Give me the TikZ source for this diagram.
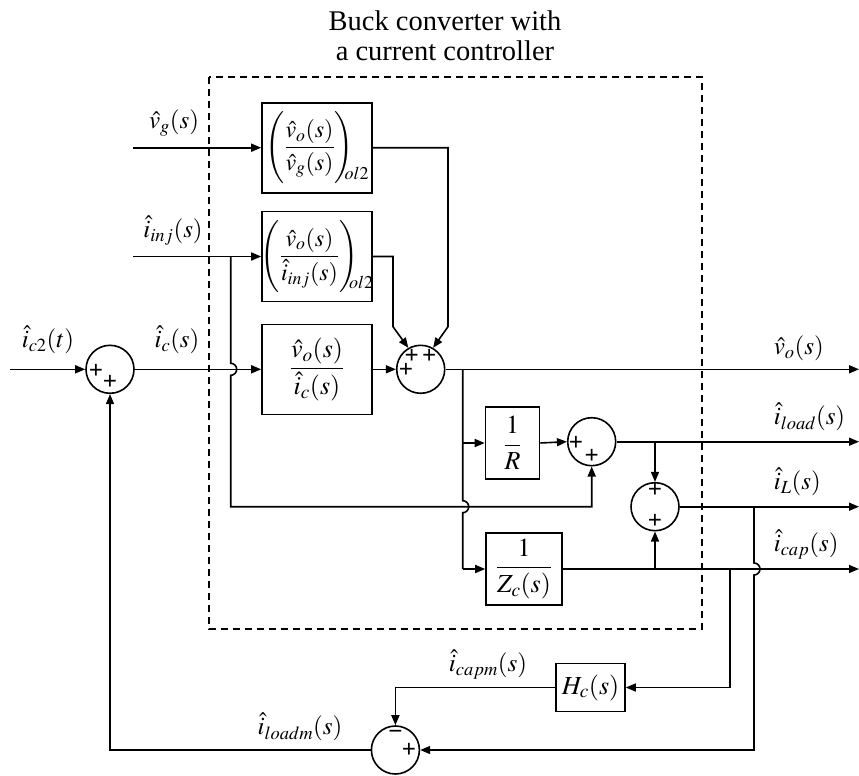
\documentclass[tikz,border=0pt]{standalone}
\usepackage{mathptmx}
\usepackage[no-math]{fontspec}
\setmainfont{Liberation Serif}
\usetikzlibrary{arrows.meta}
\newcommand{\olsub}{\hspace{-9pt}\smash{\raisebox{-26pt}{\fontsize{18}{18}\selectfont$ol2$}}}
\begin{document}
\begin{tikzpicture}[x=1pt,y=1pt,
  line width=1.6pt,
  >={Triangle[length=10pt,width=8pt]},
  blk/.style={draw, rectangle, inner sep=0pt, font=\fontsize{26}{30}\selectfont},
  blkp/.style={draw, rectangle, inner sep=0pt, font=\fontsize{24}{28}\selectfont},
  sumc/.style={draw, circle, minimum size=48pt, inner sep=0pt},
  sgn/.style={font=\fontsize{25}{25}\selectfont\bfseries, inner sep=0pt},
  lbl/.style={anchor=south, inner sep=0pt, font=\fontsize{25}{29}\selectfont},
  lblw/.style={anchor=south west, inner sep=0pt, font=\fontsize{25}{29}\selectfont},
  frame/.style={dash pattern=on 7pt off 5pt, line width=1.4pt}
]
\useasboundingbox (0,0) rectangle (859,-776);

% title and dashed frame
\node[align=center, font=\fontsize{28.5}{29.5}\selectfont] (title) at (445,-36) {Buck converter with\\a current controller};
\draw[frame] (209,-77) rectangle (702,-629);

% blocks
\node[blkp, minimum width=110pt, minimum height=90pt] (b1) at (317,-147.7)
  {\makebox[106pt][c]{$\displaystyle\left(\rule[-27pt]{0pt}{66pt}\frac{\hat{v}_o(s)}{\hat{v}_g(s)}\right)$\olsub}};
\node[blkp, minimum width=110pt, minimum height=90pt] (b2) at (317,-256.5)
  {\makebox[106pt][c]{$\displaystyle\left(\rule[-27pt]{0pt}{66pt}\frac{\hat{v}_o(s)}{\hat{i}_{inj}(s)}\right)$\olsub}};
\node[blk, minimum width=110pt, minimum height=90pt] (b3) at (317,-369.3)
  {$\displaystyle\frac{\hat{v}_o(s)}{\hat{i}_c(s)}$};
\node[blk, minimum width=54pt, minimum height=72pt] (bR) at (512.5,-443)
  {$\displaystyle\frac{1}{R}$};
\node[blk, minimum width=76pt, minimum height=72pt] (bZ) at (524,-569)
  {$\displaystyle\frac{1}{Z_c(s)}$};
\node[blk, minimum width=69pt, minimum height=48pt] (bH) at (590.5,-687.5)
  {$H_c(s)$};

% summing junctions
\node[sumc] (s0) at (110,-369.3) {};
\node[sumc] (s1) at (420.7,-369.3) {};
\node[sumc] (s2) at (591.7,-441.7) {};
\node[sumc] (s3) at (655,-506.7) {};
\node[sumc] (s4) at (395.4,-750) {};

% signs
\node[sgn] (p0a) at (96,-371) {+};
\node[sgn] (p0b) at (110,-382.5) {+};
\node[sgn] (p1a) at (411.7,-356.5) {+};
\node[sgn] (p1b) at (429.3,-356.5) {+};
\node[sgn] (p1c) at (406,-370.7) {+};
\node[sgn] (p2a) at (576,-443.3) {+};
\node[sgn] (p2b) at (591.7,-456) {+};
\node[sgn] (p3a) at (655,-490.7) {+};
\node[sgn] (p3b) at (655,-521.7) {+};
\node[sgn] (m4a) at (395.4,-735) {\textminus};
\node[sgn] (p4b) at (409,-750) {+};

% free ends and branch points
\coordinate (vgin) at (133,-147.7);
\coordinate (injin) at (133,-256.5);
\coordinate (ic2in) at (10,-369.3);
\coordinate (jinj) at (230.7,-256.5);
\coordinate (jvo) at (462.7,-369.3);
\coordinate (jload) at (655,-441.7);
\coordinate (jL) at (754,-506.7);
\coordinate (jcap1) at (655,-569);
\coordinate (jcap2) at (730,-569);
\coordinate (ovo) at (859,-369.3);
\coordinate (oload) at (859,-441.7);
\coordinate (oL) at (859,-506.7);
\coordinate (ocap) at (859,-569);

% inputs
\draw[->] (vgin) -- (b1.west);
\draw[->] (injin) -- (b2.west);
\draw[->] (ic2in) -- (s0.west);
\draw[->] (s0.east) -- (b3.west);
\draw[->] (b3.east) -- (s1.west);
\draw[->] (b1.east) -- (448,-147.7) -- (448,-326.7) -- (s1.60);
\draw[->] (b2.east) -- (393,-256.5) -- (393,-326.7) -- (s1.120);

% output v_o and its branch
\draw[->] (s1.east) -- (ovo);
\draw (jvo) -- (462.7,-500.7) arc[start angle=90,end angle=-90,radius=6] -- (462.7,-569);
\draw[->] (462.7,-443) -- (bR.west);
\draw[->] (462.7,-569) -- (bZ.west);

% injected current branch
\draw[->] (jinj) -- (230.7,-363.3) arc[start angle=90,end angle=-90,radius=6]
  -- (230.7,-506.7) -- (591.7,-506.7) -- (s2.south);

% load current
\draw[->] (bR.east) -- (s2.west);
\draw[->] (s2.east) -- (oload);
\draw[->] (jload) -- (s3.north);

% capacitor current
\draw[->] (bZ.east) -- (ocap);
\draw[->] (jcap1) -- (s3.south);
\draw[->] (jcap2) -- (730,-687.5) -- (bH.east);

% inductor current
\draw[->] (s3.east) -- (oL);
\draw[->] (jL) -- (754,-563) arc[start angle=90,end angle=-90,radius=6] -- (754,-750) -- (s4.east);

% measured feedback
\draw[->] (bH.west) -- (395.4,-687.5) -- (s4.north);
\draw[->] (s4.west) -- (110,-750) -- (s0.south);

% labels
\node[lbl] (lvg) at (174,-137) {$\hat{v}_g(s)$};
\node[lbl] (linj) at (173,-246) {$\hat{i}_{inj}(s)$};
\node[lbl] (lic) at (177,-355) {$\hat{i}_c(s)$};
\node[lbl] (lic2) at (48,-355) {$\hat{i}_{c2}(t)$};
\node[lblw] (lvo) at (773,-362) {$\hat{v}_o(s)$};
\node[lblw] (lload) at (773,-432) {$\hat{i}_{load}(s)$};
\node[lblw] (lL) at (773,-497) {$\hat{i}_L(s)$};
\node[lblw] (lcap) at (773,-560) {$\hat{i}_{cap}(s)$};
\node[lbl] (lcapm) at (488,-680) {$\hat{i}_{capm}(s)$};
\node[lbl] (lloadm) at (300,-742) {$\hat{i}_{loadm}(s)$};
\end{tikzpicture}
\end{document}
